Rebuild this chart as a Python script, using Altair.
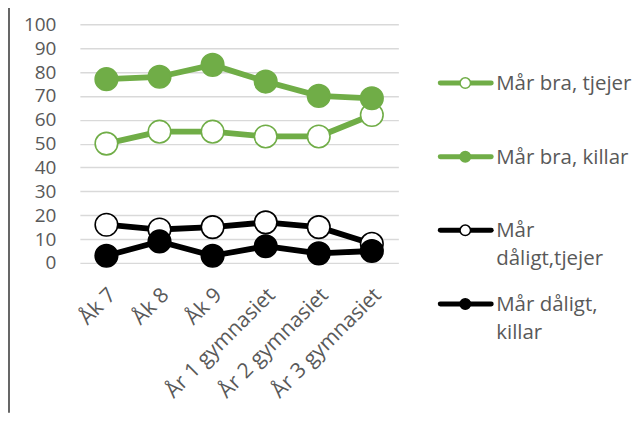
import altair as alt
import pandas as pd

categories = ["Åk 7", "Åk 8", "Åk 9", "År 1 gymnasiet", "År 2 gymnasiet", "År 3 gymnasiet"]
series_names = ["Mår bra, tjejer", "Mår bra, killar", "Mår dåligt,tjejer", "Mår dåligt, killar"]
legend_labels = ["Mår bra, tjejer", "Mår bra, killar", "Mår\ndåligt,tjejer", "Mår dåligt,\nkillar"]

bra_tjejer = [50, 55, 55, 53, 53, 62]
bra_killar = [77, 78, 83, 76, 70, 69]
daligt_tjejer = [16, 14, 15, 17, 15, 8]
daligt_killar = [3, 9, 3, 7, 4, 5]

series_values = [bra_tjejer, bra_killar, daligt_tjejer, daligt_killar]

GREEN = "#70ad47"
BLACK = "#000000"
TEXT = "#595959"
FONT = "Open Sans"

stroke_range = [GREEN, GREEN, BLACK, BLACK]
fill_range = ["#ffffff", GREEN, "#ffffff", BLACK]

rows = []
for name, vals in zip(series_names, series_values):
    for c, v in zip(categories, vals):
        rows.append({"series": name, "category": c, "value": v})
df = pd.DataFrame(rows)

stroke_scale = alt.Scale(domain=series_names, range=stroke_range)
fill_scale = alt.Scale(domain=series_names, range=fill_range)

x_enc = alt.X(
    "category:N",
    sort=categories,
    title=None,
    axis=alt.Axis(
        labelAngle=-45,
        labelFontSize=21,
        labelColor=TEXT,
        labelFont=FONT,
        labelPadding=21,
        labelOffset=-2,
        ticks=False,
        tickSize=0,
        domain=False,
        grid=False,
    ),
)
y_enc = alt.Y(
    "value:Q",
    title=None,
    scale=alt.Scale(domain=[0, 100], nice=False),
    axis=alt.Axis(
        values=list(range(0, 101, 10)),
        labelFontSize=19,
        labelColor=TEXT,
        labelFont=FONT,
        labelPadding=24,
        ticks=False,
        tickSize=0,
        domain=False,
        grid=True,
        gridColor="#d9d9d9",
        gridWidth=1.4,
    ),
)

base = alt.Chart(df)

left_line = alt.Chart(alt.Data(values=[{"a": 1}])).mark_rule(
    color="#404040", strokeWidth=1.6
).encode(x=alt.value(-71), y=alt.value(-17), y2=alt.value(389))

layers = [left_line]
for name in series_names:
    sub = base.transform_filter(alt.datum.series == name)
    layers.append(
        sub.mark_line(strokeWidth=5.8, strokeCap="round", strokeJoin="round").encode(
            x=x_enc,
            y=y_enc,
            stroke=alt.Stroke("series:N", scale=stroke_scale, legend=None),
        )
    )
    layers.append(
        sub.mark_point(shape="circle", filled=True, size=510, strokeWidth=1.6, opacity=1).encode(
            x=x_enc,
            y=y_enc,
            fill=alt.Fill("series:N", scale=fill_scale, legend=None),
            stroke=alt.Stroke("series:N", scale=stroke_scale, legend=None),
        )
    )

main = alt.layer(*layers).properties(width=319, height=239)

leg_df = pd.DataFrame({"series": series_names, "label": legend_labels})
leg_y = alt.Y("series:N", sort=series_names, axis=None,
              scale=alt.Scale(range=[22, 317]))
leg_base = alt.Chart(leg_df)
leg_rule = leg_base.mark_rule(strokeWidth=5, strokeCap="round").encode(
    x=alt.value(1), x2=alt.value(52), y=leg_y,
    stroke=alt.Stroke("series:N", scale=stroke_scale, legend=None),
)
leg_point = leg_base.mark_point(shape="circle", filled=True, size=110, strokeWidth=1.5, opacity=1).encode(
    x=alt.value(26), y=leg_y,
    fill=alt.Fill("series:N", scale=fill_scale, legend=None),
    stroke=alt.Stroke("series:N", scale=stroke_scale, legend=None),
)
leg_text = leg_base.mark_text(
    align="left", baseline="alphabetic", dy=7, lineBreak="\n", lineHeight=28,
    font=FONT, fontSize=20.5, color=TEXT,
).encode(x=alt.value(57), y=leg_y, text="label:N")

legend = alt.layer(leg_rule, leg_point, leg_text).properties(width=150, height=239)

chart = alt.hconcat(main, legend, spacing=39).resolve_scale(
    stroke="independent", fill="independent", y="independent"
).properties(padding={"left": 0, "top": -2, "right": 0, "bottom": 0}).configure(
    font=FONT
).configure_view(strokeWidth=0, stroke="transparent")

chart.save("out.html", embed_options={"renderer": "svg", "actions": False})
